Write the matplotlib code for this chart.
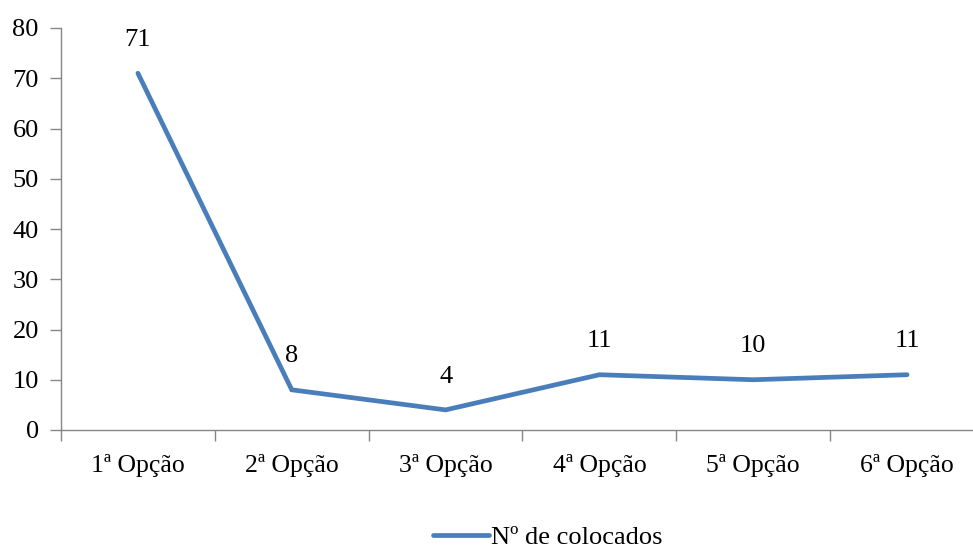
import matplotlib
matplotlib.use("Agg")
import matplotlib.pyplot as plt
from matplotlib.ticker import FixedLocator

categories = ["1ª Opção", "2ª Opção", "3ª Opção", "4ª Opção", "5ª Opção", "6ª Opção"]
values = [71, 8, 4, 11, 10, 11]
series_name = "Nº de colocados"

plt.rcParams['font.family'] = ['Liberation Serif', 'DejaVu Serif']

W, H = 973, 548
fig = plt.figure(figsize=(W/100, H/100), dpi=100)
ax = fig.add_axes([61/W, (H-430)/H, (984-61)/W, 402/H])

x = list(range(len(categories)))
line, = ax.plot(x, values, color='#4a7ebb', linewidth=3.4, solid_joinstyle='miter',
                solid_capstyle='round', label=series_name)

for xi, v in zip(x, values):
    ax.annotate(str(v), (xi, v), xytext=(0, 24), textcoords='offset points',
                ha='center', va='center', fontsize=19, color='black')

ax.set_xlim(-0.5, len(categories) - 0.5)
ax.set_ylim(0, 80)
ax.set_yticks(range(0, 81, 10))
ax.set_xticks(x)
ax.set_xticklabels(categories)
ax.xaxis.set_minor_locator(FixedLocator([i - 0.5 for i in range(len(categories) + 1)]))
ax.tick_params(axis='x', which='major', length=0, pad=17, labelsize=18.5)
ax.tick_params(axis='x', which='minor', length=8, width=1, color='#868686', direction='out')
ax.tick_params(axis='y', length=8, width=1, color='#868686', direction='out', pad=8, labelsize=19)

for s in ['top', 'right']:
    ax.spines[s].set_visible(False)
for s in ['left', 'bottom']:
    ax.spines[s].set_color('#868686')
    ax.spines[s].set_linewidth(1)

fig.legend(handles=[line], labels=[series_name], loc='center',
           bbox_to_anchor=(548/W, 1 - 537/H), frameon=False, fontsize=19,
           handlelength=2.1, handletextpad=0.1)

fig.savefig("out.png", dpi=100)
